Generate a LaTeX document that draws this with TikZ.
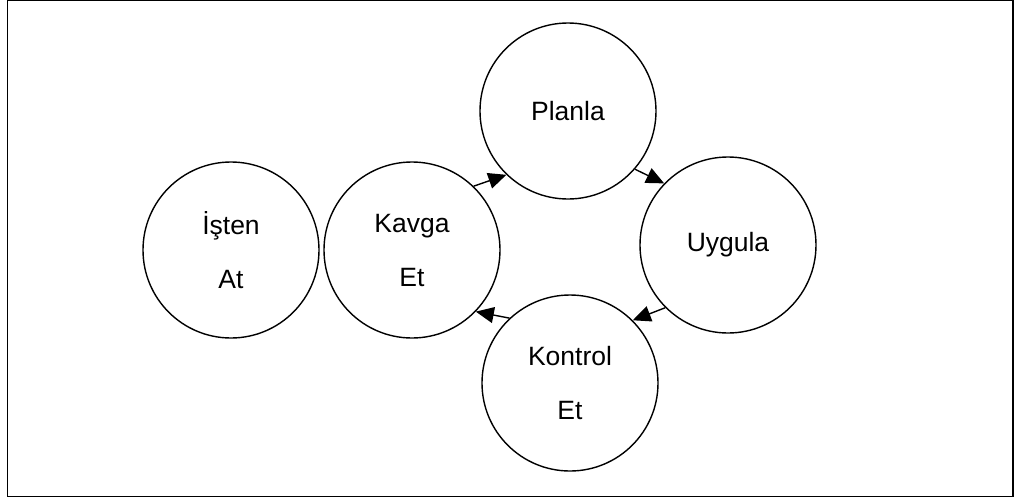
\documentclass[tikz,border=0pt]{standalone}
\usepackage{fontspec}
\setmainfont{Liberation Sans}
\usetikzlibrary{arrows.meta}
\begin{document}
\begin{tikzpicture}[x=1pt,y=-1pt,
  state/.style={circle,draw=black,line width=1.4pt,minimum size=176pt,inner sep=0pt,
    align=center,font=\fontsize{26.5}{54}\selectfont},
  flow/.style={line width=1.4pt,-{Triangle[length=18pt,width=16pt]}},
  frame/.style={draw=black,line width=1.3pt}]
\useasboundingbox (0,0) rectangle (1021,499);
\draw[frame] (7.5,0.5) rectangle (1013,496.5);
\node[state] (isten) at (231,250) {İşten\\At};
\node[state] (kavga) at (412,250) {Kavga\\Et};
\node[state] (planla) at (568,111) {Planla};
\node[state] (uygula) at (728,245) {Uygula};
\node[state] (kontrol) at (570,383) {Kontrol\\Et};
\draw[flow] (kavga.46) -- (planla.226);
\draw[flow] (planla.319) -- (uygula.136);
\draw[flow] (uygula.225) -- (kontrol.45);
\draw[flow] (kontrol.133) -- (kavga.316);
\end{tikzpicture}
\end{document}
